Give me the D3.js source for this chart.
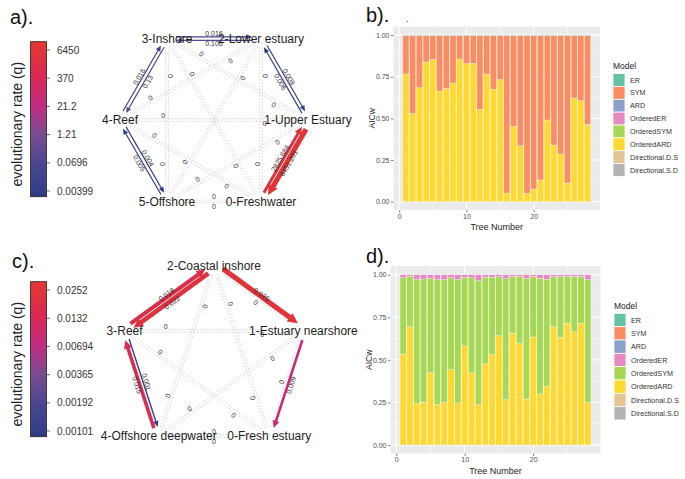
<!DOCTYPE html>
<html><head><meta charset="utf-8">
<script src="https://cdn.jsdelivr.net/npm/d3@7/dist/d3.min.js"></script>
<style>
body{margin:0;background:#fff}
svg{display:block}
text{font-family:"Liberation Sans",Arial,Helvetica,sans-serif}
</style>
</head><body>
<svg id="fig" width="685" height="479"></svg>
<script>
// ---------------- DATA ----------------
// panel a: transition network (directed rates)
const statesA = ["0-Freshwater","1-Upper Estuary","2-Lower estuary","3-Inshore","4-Reef","5-Offshore"];
const fromA = [3, 2, 2, 1, 3, 4, 4, 5, 1, 0];
const toA   = [2, 3, 1, 2, 4, 3, 5, 4, 0, 1];
const rateA = [0.016, 0.106, 0.008, 0.006, 0.13, 0.016, 0.004, 0.005, 6451.201, 2825.684];
const colorbarTicksA = ["0.00399","0.0696","1.21","21.2","370","6450"];

// panel c: transition network
const statesC = ["0-Fresh estuary","1-Estuary nearshore","2-Coastal inshore","3-Reef","4-Offshore deepwater"];
const fromC = [2, 3, 2, 1, 3, 4];
const toC   = [3, 2, 1, 0, 4, 3];
const rateC = [0.022, 0.018, 0.025, 0.009, 0.001, 0.015];
const colorbarTicksC = ["0.00101","0.00192","0.00365","0.00694","0.0132","0.0252"];

// panels b & d: AICw per tree
const models = ["ER","SYM","ARD","OrderedER","OrderedSYM","OrderedARD","Directional.D.S","Directional.S.D"];
const trees = [1,2,3,4,5,6,7,8,9,10,11,12,13,14,15,16,17,18,19,20,21,22,23,24,25,26,27,28];
const xTicks = [0, 10, 20];
const yTicks = [0, 0.25, 0.5, 0.75, 1];

const bER         = [0.003,0.003,0.003,0.003,0.003,0.003,0.003,0.003,0.003,0.003,0.003,0.003,0.003,0.003,0.003,0.003,0.003,0.003,0.003,0.003,0.003,0.003,0.003,0.003,0.003,0.003,0.003,0.003];
const bSYM        = [0.231,0.467,0.313,0.159,0.145,0.333,0.317,0.285,0.141,0.169,0.167,0.443,0.231,0.323,0.265,0.945,0.545,0.661,0.947,0.921,0.867,0.507,0.657,0.711,0.885,0.375,0.391,0.533];
const bOrderedARD = [0.766,0.530,0.684,0.838,0.852,0.664,0.680,0.712,0.856,0.828,0.830,0.554,0.766,0.674,0.732,0.052,0.452,0.336,0.050,0.076,0.130,0.490,0.340,0.286,0.112,0.622,0.606,0.464];

const dOrderedER  = [0.018,0.008,0.029,0.025,0.020,0.029,0.029,0.018,0.029,0.016,0.018,0.035,0.014,0.014,0.012,0.024,0.010,0.010,0.022,0.010,0.022,0.027,0.012,0.012,0.010,0.010,0.010,0.029];
const dOrderedSYM = [0.448,0.297,0.728,0.723,0.555,0.734,0.721,0.540,0.724,0.401,0.559,0.728,0.510,0.456,0.346,0.710,0.333,0.395,0.708,0.356,0.678,0.629,0.293,0.356,0.274,0.325,0.274,0.721];
const dOrderedARD = [0.534,0.695,0.243,0.252,0.425,0.237,0.250,0.442,0.247,0.583,0.423,0.237,0.476,0.530,0.642,0.266,0.657,0.595,0.270,0.634,0.300,0.344,0.695,0.632,0.716,0.665,0.716,0.250];

// ---------------- DRAWING ----------------
const svg = d3.select("#fig");
const defs = svg.append("defs");
const gradStops = [[0,"#2d3a86"],[0.2,"#494690"],[0.4,"#784d92"],[0.59,"#c22c80"],[0.76,"#d92858"],[1,"#e2382e"]];
const gradInterp = d3.scaleLinear().domain(gradStops.map(s=>s[0])).range(gradStops.map(s=>s[1])).interpolate(d3.interpolateRgb).clamp(true);
const lg = defs.append("linearGradient").attr("id","cbgrad").attr("x1",0).attr("y1",1).attr("x2",0).attr("y2",0);
gradStops.forEach(s=>lg.append("stop").attr("offset",s[0]).attr("stop-color",s[1]));

function panelLetter(txt,x,y){
  svg.append("text").attr("x",x).attr("y",y).attr("font-size",20).attr("fill","#111").text(txt);
}

function drawColorbar(ticks, barTop, barBot){
  const g = svg.append("g");
  const bx = 30.5, bw = 16;
  const tTop = barTop + 8.3, tBot = barBot - 5.7;
  const ys = d3.scaleLog().domain([+ticks[0], +ticks[ticks.length-1]]).range([tBot, tTop]);
  g.append("rect").attr("x",bx).attr("y",barTop).attr("width",bw).attr("height",barBot-barTop)
    .attr("fill","url(#cbgrad)").attr("stroke","#222").attr("stroke-width",0.8);
  ticks.forEach(t=>{
    const yy = ys(+t);
    g.append("line").attr("x1",bx+bw+0.5).attr("x2",bx+bw+3.5).attr("y1",yy).attr("y2",yy).attr("stroke","#444").attr("stroke-width",0.8);
    g.append("text").attr("x",57).attr("y",yy).attr("dy","0.35em").attr("font-size",10).attr("fill","#333").text(t);
  });
  const cy = (barTop+barBot)/2 + 5;
  g.append("text").attr("transform",`translate(17.5,${cy}) rotate(-90)`).attr("text-anchor","middle")
    .attr("dy","0.35em").attr("font-size",14).attr("fill","#222").text("evolutionary rate (q)");
  return r => gradInterp((barBot - ys(r))/(barBot-barTop));
}

function drawNetwork(states, from, to, rate, cx, cy, R, colorOf){
  const n = states.length;
  const pos = states.map((s,i)=>{
    const a = (-90 + 180/n + i*360/n)*Math.PI/180;
    return [cx + R*Math.cos(a), cy - R*Math.sin(a)];
  });
  const rm = new Map();
  from.forEach((f,k)=>rm.set(f+"-"+to[k], rate[k]));
  const maxR = d3.max(rate);
  const gZero = svg.append("g"), gCol = svg.append("g"), gLab = svg.append("g"), gNode = svg.append("g");
  const shrink = 9;
  for(let i=0;i<n;i++) for(let j=i+1;j<n;j++){
    const adjacent = (j-i===1) || (j-i===n-1);
    [[i,j],[j,i]].forEach(([s,t])=>{
      const r = rm.get(s+"-"+t) || 0;
      const ps = pos[s], pt = pos[t];
      const dx = pt[0]-ps[0], dy = pt[1]-ps[1], len = Math.hypot(dx,dy);
      const ux = dx/len, uy = dy/len, nx = uy, ny = -ux;
      let ang = Math.atan2(dy,dx)*180/Math.PI;
      if(ang>90) ang-=180; if(ang<=-90) ang+=180;
      if(r>0){
        const w = 1.2 + 3.9*r/maxR;
        const off = Math.max(1.8, w/2+0.4);
        const sx = ps[0]+ux*shrink+nx*off, sy = ps[1]+uy*shrink+ny*off;
        const tx = pt[0]-ux*shrink+nx*off, ty = pt[1]-uy*shrink+ny*off;
        const L = 4.5 + w*1.1, Wd = 3.5 + w*1.3;
        const col = colorOf(r);
        gCol.append("line").attr("x1",sx).attr("y1",sy).attr("x2",tx-ux*L*0.7).attr("y2",ty-uy*L*0.7)
          .attr("stroke",col).attr("stroke-width",w);
        const bxp = tx-ux*L, byp = ty-uy*L;
        gCol.append("polygon").attr("points",[[tx,ty],[bxp+nx*Wd/2,byp+ny*Wd/2],[bxp-nx*Wd/2,byp-ny*Wd/2]].map(p=>p.join(",")).join(" "))
          .attr("fill",col);
      } else {
        const off = 1.3;
        gZero.append("line")
          .attr("x1",ps[0]+ux*shrink+nx*off).attr("y1",ps[1]+uy*shrink+ny*off)
          .attr("x2",pt[0]-ux*shrink+nx*off).attr("y2",pt[1]-uy*shrink+ny*off)
          .attr("stroke","#c9c9c9").attr("stroke-width",0.8).attr("stroke-dasharray","1.6,1.6");
      }
      const tt = adjacent ? 0.5 : 0.23, lo = adjacent ? 5 : 4;
      const lx = ps[0]+dx*tt+nx*lo, ly = ps[1]+dy*tt+ny*lo;
      gLab.append("text").attr("transform",`translate(${lx},${ly}) rotate(${ang})`)
        .attr("text-anchor","middle").attr("dy","0.35em").attr("font-size",7).attr("fill","#333")
        .text(r>0 ? String(r) : "0");
    });
  }
  states.forEach((s,i)=>{
    gNode.append("text").attr("x",pos[i][0]).attr("y",pos[i][1]).attr("dy","0.36em")
      .attr("text-anchor","middle").attr("font-size",12).attr("fill","#1e1e1e").text(s);
  });
}

const color = d3.scaleOrdinal(models, d3.schemeSet2);
const stackKeys = models.slice().reverse();

function makeRows(series){
  return trees.map((t,i)=>{
    const o = {tree:t};
    models.forEach(m=>{ o[m] = series[m] ? series[m][i] : 0; });
    return o;
  });
}

function drawBars(rows, L, Rr, T, B, legX, legY, legStep){
  const g = svg.append("g");
  const x = d3.scaleLinear().domain([-0.845, 29.845]).range([L, Rr]);
  const y = d3.scaleLinear().domain([-0.05, 1.05]).range([B, T]);
  g.append("rect").attr("x",L).attr("y",T).attr("width",Rr-L).attr("height",B-T).attr("fill","#ebebeb");
  [0.125,0.375,0.625,0.875].forEach(v=>g.append("line").attr("x1",L).attr("x2",Rr).attr("y1",y(v)).attr("y2",y(v)).attr("stroke","#fff").attr("stroke-width",0.5));
  [5,15,25].forEach(v=>g.append("line").attr("y1",T).attr("y2",B).attr("x1",x(v)).attr("x2",x(v)).attr("stroke","#fff").attr("stroke-width",0.5));
  yTicks.forEach(v=>g.append("line").attr("x1",L).attr("x2",Rr).attr("y1",y(v)).attr("y2",y(v)).attr("stroke","#fff").attr("stroke-width",1));
  xTicks.forEach(v=>g.append("line").attr("y1",T).attr("y2",B).attr("x1",x(v)).attr("x2",x(v)).attr("stroke","#fff").attr("stroke-width",1));

  const st = d3.stack().keys(stackKeys)(rows);
  g.append("g").selectAll("g").data(st).join("g").attr("fill",d=>color(d.key))
    .selectAll("rect").data(d=>d).join("rect")
    .attr("x",d=>x(d.data.tree-0.45)).attr("width",x(0.9)-x(0))
    .attr("y",d=>y(d[1])).attr("height",d=>Math.max(0,y(d[0])-y(d[1])))
    .attr("stroke","#fff").attr("stroke-width",0.3);

  const ax = g.append("g").attr("transform",`translate(${L},0)`)
    .call(d3.axisLeft(y).tickValues(yTicks).tickFormat(d3.format(".2f")).tickSizeInner(2.5).tickSizeOuter(0).tickPadding(1.5));
  const bx = g.append("g").attr("transform",`translate(0,${B})`)
    .call(d3.axisBottom(x).tickValues(xTicks).tickFormat(d3.format("d")).tickSizeInner(2.5).tickSizeOuter(0).tickPadding(1.5));
  [ax,bx].forEach(a=>{
    a.select(".domain").remove();
    a.selectAll(".tick line").attr("stroke","#333").attr("stroke-width",0.6);
    a.selectAll(".tick text").attr("font-size",7).attr("fill","#4d4d4d")
      .attr("font-family",'"Liberation Sans",Arial,sans-serif');
  });
  g.append("text").attr("x",(L+Rr)/2).attr("y",B+20).attr("text-anchor","middle").attr("font-size",9).attr("fill","#222").text("Tree Number");
  g.append("text").attr("transform",`translate(${L-21.5},${(T+B)/2}) rotate(-90)`).attr("text-anchor","middle")
    .attr("dy","0.35em").attr("font-size",8.5).attr("fill","#222").text("AICw");

  // legend
  const lgG = g.append("g");
  lgG.append("text").attr("x",legX).attr("y",legY-11).attr("font-size",8.5).attr("fill","#222").text("Model");
  models.forEach((m,i)=>{
    const cyk = legY + i*legStep;
    lgG.append("rect").attr("x",legX).attr("y",cyk-legStep/2).attr("width",12).attr("height",legStep)
      .attr("fill",color(m)).attr("stroke","#fff").attr("stroke-width",0.8);
    lgG.append("text").attr("x",legX+17).attr("y",cyk).attr("dy","0.35em").attr("font-size",7.2).attr("fill","#333").text(m);
  });
}

// ---- panel a ----
panelLetter("a).",10,24);
const colA = drawColorbar(colorbarTicksA, 41.7, 196.7);
drawNetwork(statesA, fromA, toA, rateA, 214, 120, 94, colA);

// ---- panel c ----
panelLetter("c).",12,268);
const colC = drawColorbar(colorbarTicksC, 281.7, 436.7);
drawNetwork(statesC, fromC, toC, rateC, 214, 360, 94, colC);

// ---- panel b ----
panelLetter("b).",366,22);
svg.append("text").attr("x",406).attr("y",22).attr("font-size",10).attr("fill","#333").text(".");
drawBars(makeRows({ER:bER, SYM:bSYM, OrderedARD:bOrderedARD}), 393.5, 600, 26.7, 210, 613, 80, 12.86);

// ---- panel d ----
panelLetter("d).",366,263);
drawBars(makeRows({OrderedER:dOrderedER, OrderedSYM:dOrderedSYM, OrderedARD:dOrderedARD}), 390.5, 600.5, 266.2, 453.5, 614, 320, 13.33);
</script>
</body></html>
